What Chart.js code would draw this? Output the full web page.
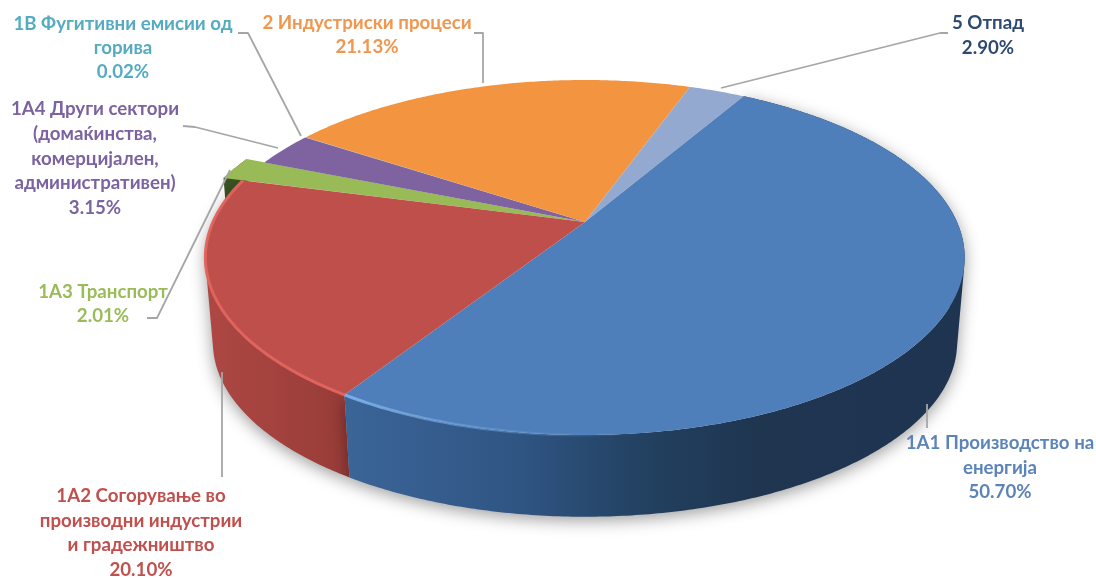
<!DOCTYPE html>
<html><head><meta charset="utf-8">
<script src="https://cdn.jsdelivr.net/npm/chart.js@4"></script>
<style>html,body{margin:0;padding:0;background:#fff}canvas{display:block}</style>
</head><body><canvas id="c" width="1096" height="578"></canvas>
<script>
const categories = [
  ['1А1 Производство на','енергија'],
  ['1А2 Согорување во','производни индустрии','и градежништво'],
  ['1А3 Транспорт'],
  ['1А4 Други сектори','(домаќинства,','комерцијален,','административен)'],
  ['1В Фугитивни емисии од','горива'],
  ['2 Индустриски процеси'],
  ['5 Отпад']
];
const values = [50.70, 20.10, 2.01, 3.15, 0.02, 21.13, 2.90];
const sliceColors = ['#4F7FBA','#BE4F4B','#98BA57','#7F62A0','#4BACC6','#F29440','#94A9CF'];
const labelColors = ['#5B84BA','#C0504D','#9BBB59','#7B62A0','#55ABC0','#F0964E','#2F4A70'];

// label layout: centre x, y of first line, line pitch
const labelPos = [[1000,443,24.5],[141,496,24.7],[103,292,24],[95,109,24.8],[123,24,24],[367,23,24],[988,23,24.5]];
const leaders = [
  [[927,404],[927,428]],
  [[222,372],[222,477]],
  [[147,318],[157,318],[230,170]],
  [[183,126],[195,127],[278,148]],
  [[238,33],[248,33],[301,136]],
  [[474,33],[483,33],[483,83]],
  [[948,33],[940,33],[721,88]]
];
const FONT = 'bold 18.7px Lato, "Noto Sans", sans-serif';

// projection of the unit circle of the pie onto the tilted 3-D view
const A = 372, B = 170.4, K = 0.2, DEPTH = 86, SHRINK = 0.98;
const explode = [1,1,1.06,1,1,1,1];

function proj(el, ang, level, f) {
  const u = Math.cos(ang)*f, v = Math.sin(ang)*f, w = 1 - K*v, s = level ? SHRINK : 1;
  return [el.x + s*A*u/w, el.y + (level?DEPTH:0) + s*B*v/w];
}
function trace(el, level, f) {
  const n = Math.max(2, Math.ceil((el.endAngle-el.startAngle)/0.01)), pts=[];
  for (let i=0;i<=n;i++) pts.push(proj(el, el.startAngle+(el.endAngle-el.startAngle)*i/n, level, f));
  return pts;
}
function hgrad(ctx, stops){
  const x0=stops[0][0], x1=stops[stops.length-1][0];
  const g = ctx.createLinearGradient(x0,0,x1,0);
  stops.forEach(s=>g.addColorStop((s[0]-x0)/(x1-x0),s[1]));
  return g;
}
const wallStops = {
  0:[[350,'#3B6497'],[520,'#2F5583'],[650,'#22405F'],[760,'#1F3550'],[970,'#1E3450']],
  1:[[205,'#AE4844'],[355,'#963B37']],
  2:[[215,'#3B5222'],[250,'#3B5222']]
};
const rimStops = {
  0:[[350,'rgba(125,175,232,.95)'],[480,'rgba(110,160,215,.55)'],[640,'rgba(90,140,200,0)'],[970,'rgba(90,140,200,0)']],
  1:[[205,'rgba(226,100,94,.95)'],[355,'rgba(226,100,94,.95)']]
};

const pie3d = {
  id:'pie3d',
  beforeDatasetDraw(chart){
    const ctx = chart.ctx, arcs = chart.getDatasetMeta(0).data;
    ctx.save();
    // side walls, back to front: swept quads with one winding so the silhouette is filled
    [2,1,0].forEach(i=>{
      const el = arcs[i], f = explode[i];
      const top = trace(el,false,f), bot = trace(el,true,f);
      ctx.beginPath();
      for (let j=0;j<top.length-1;j++){
        let q=[top[j],top[j+1],bot[j+1],bot[j]], area=0;
        q.forEach((p,k)=>{const r=q[(k+1)%4];area+=p[0]*r[1]-r[0]*p[1];});
        if (area<0) q=q.reverse();
        q.forEach((p,k)=>k?ctx.lineTo(p[0],p[1]):ctx.moveTo(p[0],p[1]));
        ctx.closePath();
      }
      ctx.fillStyle = hgrad(ctx,wallStops[i]);
      if (i!==2){ctx.shadowColor='rgba(0,0,0,.38)';ctx.shadowBlur=16;ctx.shadowOffsetY=4;ctx.shadowOffsetX=0;}
      ctx.fill();
      ctx.shadowColor='transparent';ctx.shadowBlur=0;ctx.shadowOffsetY=0;
    });
    // top faces
    [2,3,4,5,6,0,1].forEach(i=>{
      const el = arcs[i], f = explode[i];
      ctx.beginPath(); ctx.moveTo(el.x,el.y);
      trace(el,false,f).forEach(p=>ctx.lineTo(p[0],p[1]));
      ctx.closePath();
      ctx.fillStyle = el.options.backgroundColor;
      ctx.fill();
    });
    // bevel on the near rim
    [0,1].forEach(i=>{
      const el = arcs[i], pts = trace(el,false,1);
      ctx.beginPath();
      pts.forEach((p,j)=>j?ctx.lineTo(p[0],p[1]):ctx.moveTo(p[0],p[1]));
      ctx.strokeStyle = hgrad(ctx,rimStops[i]);
      ctx.lineWidth = 3; ctx.stroke();
    });
    ctx.restore();
    return false;
  },
  afterDatasetsDraw(chart){
    const ctx = chart.ctx;
    ctx.save();
    ctx.strokeStyle='#A6A6A6'; ctx.lineWidth=1.8; ctx.lineJoin='round';
    leaders.forEach(l=>{
      ctx.beginPath();
      l.forEach((p,j)=>j?ctx.lineTo(p[0],p[1]):ctx.moveTo(p[0],p[1]));
      ctx.stroke();
    });
    ctx.font=FONT; ctx.textAlign='center'; ctx.textBaseline='middle';
    categories.forEach((lines,i)=>{
      const [cx,y0,dy]=labelPos[i];
      ctx.fillStyle=labelColors[i];
      lines.concat([values[i].toFixed(2)+'%']).forEach((t,j)=>ctx.fillText(t,cx,y0+j*dy));
    });
    ctx.restore();
  }
};

new Chart(document.getElementById('c'),{
  type:'pie',
  data:{labels:categories.map(c=>c.join(' ')),datasets:[{data:values,backgroundColor:sliceColors,borderWidth:0}]},
  options:{
    responsive:false,animation:false,rotation:30,
    layout:{padding:{left:74,right:0,top:0,bottom:134}},
    plugins:{legend:{display:false},tooltip:{enabled:false}}
  },
  plugins:[pie3d]
});
</script></body></html>
